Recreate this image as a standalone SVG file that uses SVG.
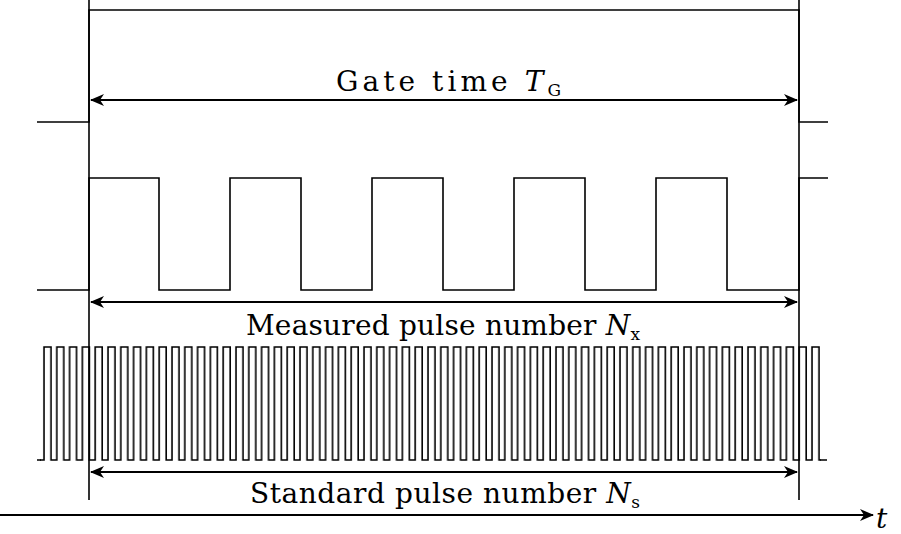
<svg xmlns="http://www.w3.org/2000/svg" width="901" height="534" viewBox="0 0 901 534">
<style>
.s{fill:none;stroke:#000;stroke-width:1.6}
.a{fill:none;stroke:#000;stroke-width:2.2}
text{font-family:"DejaVu Serif","Liberation Serif",serif;font-size:28px;fill:#000}
.i{font-style:italic}
</style>
<defs>
<marker id="ah" viewBox="0 0 14 12" refX="13" refY="6" markerWidth="14" markerHeight="12" markerUnits="userSpaceOnUse" orient="auto-start-reverse">
<path d="M0,0 L14,6 L0,12 L4,6 Z" fill="#000"/>
</marker>
<pattern id="fast" patternUnits="userSpaceOnUse" x="40" y="346" width="12.8" height="115">
<path d="M0,114 H4 V1 H11 V114 H12.8" fill="none" stroke="#000" stroke-width="1.6"/>
</pattern>
</defs>
<g id="gate-signal">
<path class="s" d="M37,122 H89 V10 H799 V122 H828"/>
</g>
<g id="measured-signal">
<path class="s" d="M37,290 H89 V178 H159 V290 H230 V178 H301 V290 H372 V178 H443 V290 H514 V178 H585 V290 H656 V178 H727 V290 H799 V178 H828"/>
</g>
<g id="standard-signal">
<rect x="40" y="346" width="780.8" height="115" fill="url(#fast)"/>
<path class="s" d="M37,460 H41 M820,460 H827"/>
</g>
<g id="markers">
<line class="s" x1="89" y1="0" x2="89" y2="500"/>
<line class="s" x1="799" y1="0" x2="799" y2="500"/>
</g>
<g id="connectors">
<line class="a" x1="91" y1="100" x2="797" y2="100" marker-start="url(#ah)" marker-end="url(#ah)"/>
<line class="a" x1="91" y1="302" x2="797" y2="302" marker-start="url(#ah)" marker-end="url(#ah)"/>
<line class="a" x1="91" y1="472" x2="797" y2="472" marker-start="url(#ah)" marker-end="url(#ah)"/>
<line class="a" x1="0" y1="515" x2="873" y2="515" marker-end="url(#ah)"/>
</g>
<g id="labels">
<text x="336" y="91" textLength="225" lengthAdjust="spacing">Gate time <tspan class="i">T</tspan><tspan font-size="17" dy="5">G</tspan></text>
<text x="246" y="335" textLength="394" lengthAdjust="spacing">Measured pulse number <tspan class="i">N</tspan><tspan font-size="17" dy="5">x</tspan></text>
<text x="250" y="503" textLength="390" lengthAdjust="spacing">Standard pulse number <tspan class="i">N</tspan><tspan font-size="17" dy="5">s</tspan></text>
<text x="876" y="528" class="i">t</text>
</g>
</svg>
